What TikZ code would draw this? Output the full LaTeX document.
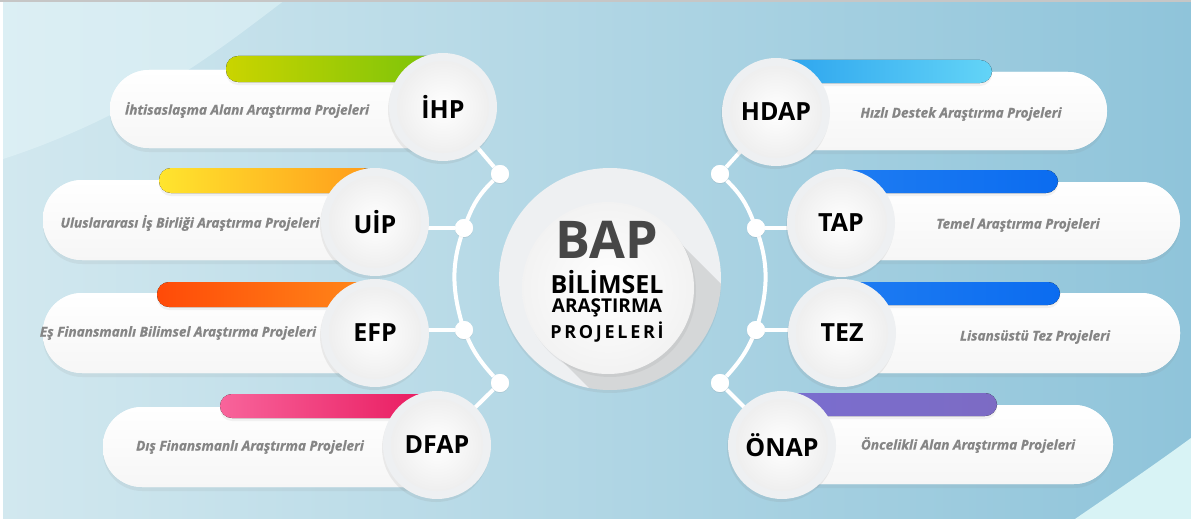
\documentclass[tikz,border=0pt]{standalone}
\usepackage{fontspec}
\setmainfont{Open Sans}
\usetikzlibrary{shadows}

\definecolor{bgleft}{HTML}{D2E8EF}
\definecolor{bgright}{HTML}{8FC4DA}
\definecolor{swoosh}{HTML}{E6F6F9}
\definecolor{corner}{HTML}{D8F3F5}
\definecolor{ringgray}{HTML}{EEF0F2}
\definecolor{descgray}{HTML}{858585}
\definecolor{bapgray}{HTML}{474747}
\definecolor{ihpA}{HTML}{CAD400}
\definecolor{ihpB}{HTML}{78C30A}
\definecolor{uipA}{HTML}{FFE52E}
\definecolor{uipB}{HTML}{FF9A1A}
\definecolor{efpA}{HTML}{FF4A08}
\definecolor{efpB}{HTML}{FF8A1A}
\definecolor{dfapA}{HTML}{F8649B}
\definecolor{dfapB}{HTML}{E8175D}
\definecolor{hdapA}{HTML}{2BA3EE}
\definecolor{hdapB}{HTML}{63D4F7}
\definecolor{tapA}{HTML}{1E7CF2}
\definecolor{tapM}{HTML}{2FA2FA}
\definecolor{tapB}{HTML}{0B6CF0}
\definecolor{onapA}{HTML}{7A6ECF}
\definecolor{onapM}{HTML}{9F9BF7}
\definecolor{onapB}{HTML}{7C6BC4}

\begin{document}
\begin{tikzpicture}[x=1pt,y=-1pt]
\tikzstyle{pill}=[fill=white, top color=white, bottom color=gray!7, rounded corners=39pt, drop shadow={opacity=0.10, shadow xshift=0pt, shadow yshift=-4pt}]
\tikzstyle{bar}=[rounded corners=12pt, drop shadow={opacity=0.10, shadow xshift=0pt, shadow yshift=-3pt}]
\tikzstyle{bubble}=[circle, minimum size=108pt, inner sep=0pt, fill=ringgray, font=\fontsize{25}{25}\selectfont\bfseries, drop shadow={opacity=0.13, shadow xshift=-1pt, shadow yshift=-3pt}, path picture={\shade[inner color=white, outer color=gray!15] (path picture bounding box.center) circle (46pt);}]
\tikzstyle{desc}=[text=descgray, font=\fontsize{13.6}{13.6}\selectfont\bfseries\itshape\addfontfeature{FakeBold=0.8}]
\tikzstyle{dot}=[circle, fill=white, minimum size=18pt, inner sep=0pt, drop shadow={opacity=0.08, shadow xshift=0pt, shadow yshift=-1pt}]
\tikzstyle{link}=[draw=white, line width=4pt]

% background
\useasboundingbox (0,0) rectangle (1191,519);
\fill[left color=bgleft, right color=bgright] (0,0) rectangle (1191,519);
\fill[swoosh, opacity=0.5] (0,0) -- (285,0) .. controls (225,45) and (140,115) .. (0,160) -- cycle;
\fill[corner] (1191,438) .. controls (1150,468) and (1110,495) .. (1075,519) -- (1191,519) -- cycle;
\fill[gray!45] (0,0) rectangle (1191,2.5);
\fill[white] (0,2.5) rectangle (3,519);

% junction dots
\node[dot](dl1) at (500,174) {};
\node[dot](dl2) at (464,228) {};
\node[dot](dl3) at (464,330) {};
\node[dot](dl4) at (500,383) {};
\node[dot](dr1) at (720,174) {};
\node[dot](dr2) at (756,228) {};
\node[dot](dr3) at (756,330) {};
\node[dot](dr4) at (720,383) {};

% left side
\fill[pill] (110,70) rectangle (470,148);
\fill[bar, left color=ihpA, right color=ihpB] (226,56) rectangle (443,82);
\fill[pill] (43,180) rectangle (400,260);
\fill[bar, left color=uipA, right color=uipB] (159,168) rectangle (375,193);
\fill[pill] (43,293) rectangle (400,373);
\fill[bar, left color=efpA, right color=efpB] (157,282) rectangle (375,307);
\fill[pill] (103,407) rectangle (465,487);
\fill[bar, left color=dfapA, right color=dfapB] (220,394) rectangle (437,418);

% right side
\fill[pill] (750,72) rectangle (1107,150);
\fill[bar, left color=hdapA, right color=hdapB] (776,60) rectangle (992,83);
\fill[pill] (815,182) rectangle (1180,260);
\fill[bar, left color=tapA, middle color=tapM, right color=tapB] (841,170) rectangle (1058,193);
\fill[pill] (815,293) rectangle (1180,373);
\fill[bar, left color=tapA, middle color=tapM, right color=tapB] (842,282) rectangle (1060,305);
\fill[pill] (755,405) rectangle (1113,484);
\fill[bar, left color=onapA, middle color=onapM, right color=onapB] (782,393) rectangle (997,416);

% connectors
\draw[link] (dl1) to[bend right=12] (dl2) to[bend right=19] (dl3) to[bend right=12] (dl4);
\draw[link] (dr1) to[bend left=12] (dr2) to[bend left=19] (dr3) to[bend left=12] (dr4);
\draw[link] (dl1) -- (443,107);
\draw[link] (dl2) -- (375,228);
\draw[link] (dl3) -- (375,330);
\draw[link] (dl4) -- (437,445);
\draw[link] (dr1) -- (776,112);
\draw[link] (dr2) -- (841,228);
\draw[link] (dr3) -- (842,330);
\draw[link] (dr4) -- (782,445);
\node[dot] at (dl1) {};
\node[dot] at (dl2) {};
\node[dot] at (dl3) {};
\node[dot] at (dl4) {};
\node[dot] at (dr1) {};
\node[dot] at (dr2) {};
\node[dot] at (dr3) {};
\node[dot] at (dr4) {};

% bubbles
\node[bubble](ihp) at (443,107) {İHP};
\node[bubble](uip) at (375,222) {UİP};
\node[bubble](efp) at (375,333) {EFP};
\node[bubble](dfap) at (437,445) {DFAP};
\node[bubble](hdap) at (776,112) {HDAP};
\node[bubble](tap) at (841,223) {TAP};
\node[bubble](tez) at (842,333) {TEZ};
\node[bubble](onap) at (782,445) {ÖNAP};

% descriptions
\node[desc](ihpd) at (247,110) {İhtisaslaşma Alanı Araştırma Projeleri};
\node[desc](uipd) at (190,223) {Uluslararası İş Birliği Araştırma Projeleri};
\node[desc](efpd) at (178,333) {Eş Finansmanlı Bilimsel Araştırma Projeleri};
\node[desc](dfapd) at (250,447) {Dış Finansmanlı Araştırma Projeleri};
\node[desc](hdapd) at (961,114) {Hızlı Destek Araştırma Projeleri};
\node[desc](tapd) at (1018,225) {Temel Araştırma Projeleri};
\node[desc](tezd) at (1035,337) {Lisansüstü Tez Projeleri};
\node[desc](onapd) at (968,445) {Öncelikli Alan Araştırma Projeleri};

% centre
\node[circle, minimum size=222pt, inner sep=0pt, fill=ringgray, drop shadow={opacity=0.12, shadow xshift=0pt, shadow yshift=-3pt}](bap) at (610,279) {};
\begin{scope}
\clip (610,279) circle (111pt);
\fill[gray, opacity=0.22] (667,230) -- (879,442) -- (761,560) -- (549,348) -- cycle;
\end{scope}
\node[circle, minimum size=172pt, inner sep=0pt, inner color=white, outer color=gray!10, drop shadow={opacity=0.12, shadow xshift=2pt, shadow yshift=-3pt}](disc) at (608,288) {};
\node[text=bapgray, inner sep=0pt, font=\fontsize{52}{52}\selectfont\bfseries](baptitle) at (607,240) {BAP};
\node[inner sep=0pt, font=\fontsize{25}{25}\selectfont\bfseries](bilimsel) at (607,282) {BİLİMSEL};
\node[inner sep=0pt, font=\fontsize{19}{19}\selectfont\bfseries](arastirma) at (607,308) {ARAŞTIRMA};
\node[inner sep=0pt, font=\fontsize{18}{18}\selectfont\bfseries\addfontfeature{LetterSpace=15}](projeleri) at (607,332) {PROJELERİ};
\end{tikzpicture}
\end{document}
